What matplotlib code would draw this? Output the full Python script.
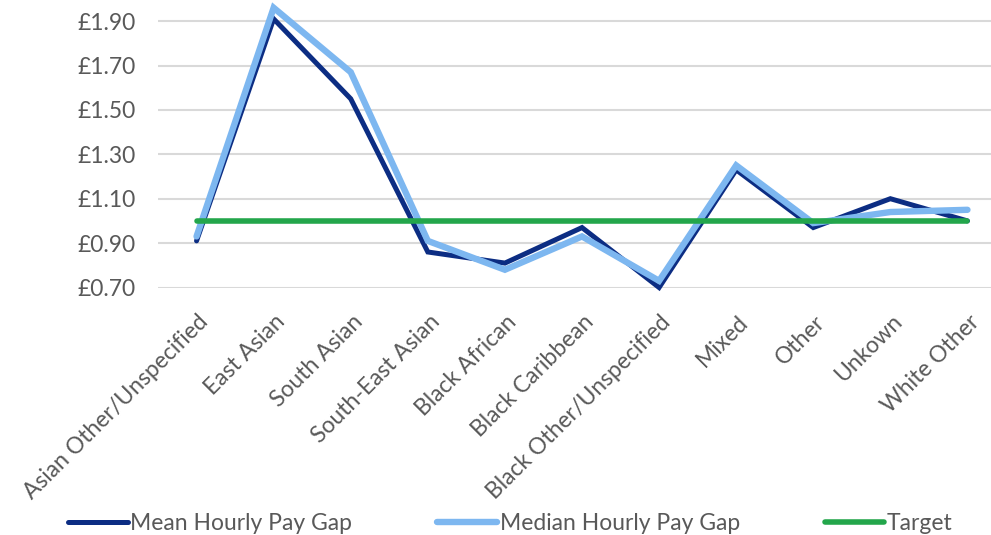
import matplotlib
matplotlib.use("Agg")
import matplotlib.pyplot as plt
from matplotlib.ticker import FuncFormatter
import matplotlib.transforms as mtransforms

categories = ["Asian Other/Unspecified", "East Asian", "South Asian", "South-East Asian",
              "Black African", "Black Caribbean", "Black Other/Unspecified", "Mixed",
              "Other", "Unkown", "White Other"]
mean_gap = [0.91, 1.91, 1.55, 0.86, 0.81, 0.97, 0.70, 1.23, 0.97, 1.10, 1.00]
median_gap = [0.93, 1.96, 1.67, 0.91, 0.78, 0.93, 0.73, 1.25, 0.99, 1.04, 1.05]
target = [1.00] * len(categories)
y_ticks = [0.70, 0.90, 1.10, 1.30, 1.50, 1.70, 1.90]

plt.rcParams["font.family"] = ["Lato", "DejaVu Sans"]
FS = 16.5
TXT = "#595959"

fig = plt.figure(figsize=(9.91, 5.35), dpi=100)
ax = fig.add_axes([158 / 991, 1 - 287.5 / 535, 848 / 991, 288.6 / 535])

x = list(range(len(categories)))
ax.plot(x, mean_gap, color="#0C2D83", lw=3.6, solid_capstyle="round",
        solid_joinstyle="miter", label="Mean Hourly Pay Gap", zorder=3, clip_on=False)
ax.plot(x, median_gap, color="#7DB7F0", lw=4.6, solid_capstyle="round",
        solid_joinstyle="miter", label="Median Hourly Pay Gap", zorder=4, clip_on=False)
ax.plot(x, target, color="#23A64B", lw=4.0, solid_capstyle="round",
        label="Target", zorder=5, clip_on=False)

ax.set_xlim(-0.5, len(categories) - 0.5)
ax.set_ylim(0.70, 2.00)
ax.set_yticks(y_ticks)
ax.yaxis.set_major_formatter(FuncFormatter(lambda v, p: f"£{v:.2f}"))
ax.grid(axis="y", color="#D9D9D9", lw=1.5)
ax.set_axisbelow(True)
for s in ax.spines.values():
    s.set_visible(False)

ax.tick_params(axis="y", length=0, pad=16, labelsize=FS, labelcolor=TXT)
ax.tick_params(axis="x", length=0, pad=17, labelsize=FS, labelcolor=TXT)
ax.set_xticks(x)
ax.set_xticklabels(categories, rotation=45, ha="right", va="top", rotation_mode="anchor")
offset = mtransforms.ScaledTranslation(1 / 100, 0, fig.dpi_scale_trans)
for lab in ax.get_xticklabels():
    lab.set_transform(lab.get_transform() + offset)

fig.legend(loc="lower center", bbox_to_anchor=(0.515, -0.036), ncol=3, frameon=False,
           fontsize=FS, handlelength=2.6, handletextpad=0.12, columnspacing=3.7,
           labelcolor=TXT)

fig.savefig("out.png", dpi=100)
